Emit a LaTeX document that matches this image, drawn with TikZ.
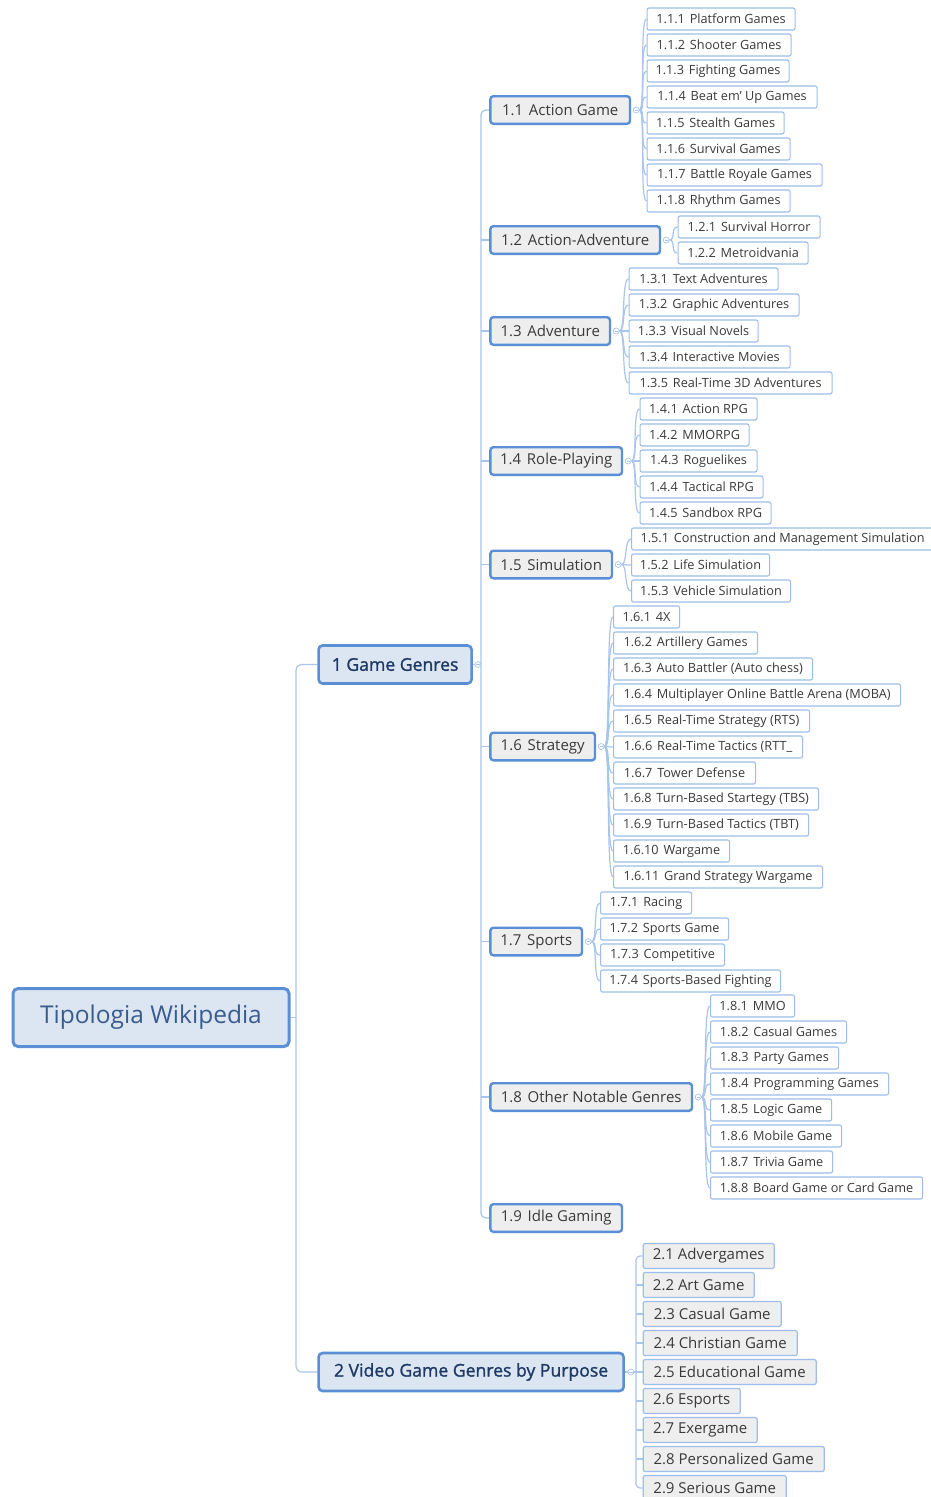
\documentclass[tikz,border=0pt]{standalone}
\usepackage{fontspec}
\setmainfont{Open Sans}
\newfontfamily\headfont[FakeBold=1.4]{Open Sans}
\usetikzlibrary{calc}

\pgfdeclarelayer{backdrop}
\pgfdeclarelayer{wires}
\pgfsetlayers{backdrop,wires,main}

\definecolor{frame}{HTML}{5A8FD6}
\definecolor{wirecol}{HTML}{A9C5EC}
\definecolor{leafline}{HTML}{9DBDEA}
\definecolor{bluefill}{HTML}{DCE6F2}
\definecolor{greyfill}{HTML}{EEEEEE}
\definecolor{roottext}{HTML}{3A5C8C}
\definecolor{headtext}{HTML}{1F3A64}
\definecolor{bodytext}{HTML}{3A3A3A}

% wider gap between an outline number and its title
\newcommand{\gp}{\hspace{0.38em}}

\tikzset{
  box/.style={anchor=west, inner xsep=0pt, inner ysep=0pt, align=center},
  rootbox/.style={box, draw=frame, line width=3pt, rounded corners=5pt, fill=bluefill,
    text=roottext, minimum height=58pt, font=\fontsize{24.5pt}{28pt}\selectfont},
  headbox/.style={box, draw=frame, line width=2.6pt, rounded corners=4pt, fill=bluefill,
    text=headtext, minimum height=38pt, font=\headfont\fontsize{17.6pt}{20pt}\selectfont},
  genrebox/.style={box, draw=frame, line width=2.4pt, rounded corners=3pt, fill=greyfill,
    text=bodytext, minimum height=27.6pt, font=\fontsize{15pt}{18pt}\selectfont},
  leafbox/.style={box, draw=leafline, line width=1.1pt, rounded corners=2pt, fill=white,
    text=bodytext, minimum height=22pt, font=\fontsize{12.7pt}{15pt}\selectfont},
  purposebox/.style={box, draw=leafline, line width=1.2pt, rounded corners=2pt, fill=greyfill,
    text=bodytext, minimum height=25pt, font=\fontsize{15pt}{18pt}\selectfont},
  wire/.style={draw=wirecol, line width=1.2pt},
  knob/.style={circle, draw=wirecol, fill=white, line width=0.7pt, inner sep=0pt, minimum size=6pt,
    path picture={\draw[wirecol, line width=0.6pt]
      ([xshift=-1.6pt]path picture bounding box.center) -- ([xshift=1.6pt]path picture bounding box.center);}},
  fan/.style={wire},
}

\begin{document}
\begin{tikzpicture}[x=1pt, y=-1pt]
\useasboundingbox (0,0) rectangle (931,1497);
\begin{pgfonlayer}{backdrop}
  \fill[white] (0,0) rectangle (931,1497);
\end{pgfonlayer}

% ---------- root and main branches ----------
\node[rootbox, minimum width=276pt] (root) at (11.5,1017.5) {Tipologia Wikipedia};
\node[headbox, minimum width=153pt] (g1) at (317.3,664.5) {1 Game Genres};
\node[headbox, minimum width=305pt] (g2) at (317.3,1372) {2 Video Game Genres by Purpose};

% ---------- genres ----------
\node[genrebox, minimum width=139.6pt] (s11) at (489.2,110)  {1.1\gp Action Game};
\node[genrebox, minimum width=169.6pt] (s12) at (489.2,240)  {1.2\gp Action-Adventure};
\node[genrebox, minimum width=119.6pt] (s13) at (489.2,331)  {1.3\gp Adventure};
\node[genrebox, minimum width=131.6pt] (s14) at (489.2,461)  {1.4\gp Role-Playing};
\node[genrebox, minimum width=121.6pt] (s15) at (489.2,564.5){1.5\gp Simulation};
\node[genrebox, minimum width=104.6pt] (s16) at (489.2,746.5){1.6\gp Strategy};
\node[genrebox, minimum width=91.6pt]  (s17) at (489.2,941.5){1.7\gp Sports};
\node[genrebox, minimum width=201.6pt] (s18) at (489.2,1097) {1.8\gp Other Notable Genres};
\node[genrebox, minimum width=131.6pt] (s19) at (489.2,1218) {1.9\gp Idle Gaming};

% ---------- collapse knobs ----------
\node[knob] (k1)  at ($(g1.east)+(5,0)$) {};
\node[knob] (k2)  at ($(g2.east)+(6,0)$) {};
\foreach \s in {11,12,13,14,15,16,17,18}
  \node[knob] (k\s) at ($(s\s.east)+(5,0)$) {};

% ---------- 1.1 ----------
\node[leafbox, minimum width=148pt] (l111) at (646.5,19)  {1.1.1\gp Platform Games};
\node[leafbox, minimum width=144pt] (l112) at (646.5,45)  {1.1.2\gp Shooter Games};
\node[leafbox, minimum width=142pt] (l113) at (646.5,71)  {1.1.3\gp Fighting Games};
\node[leafbox, minimum width=170pt] (l114) at (646.5,97)  {1.1.4\gp Beat em' Up Games};
\node[leafbox, minimum width=137pt] (l115) at (646.5,123) {1.1.5\gp Stealth Games};
\node[leafbox, minimum width=143pt] (l116) at (646.5,149) {1.1.6\gp Survival Games};
\node[leafbox, minimum width=175pt] (l117) at (646.5,175) {1.1.7\gp Battle Royale Games};
\node[leafbox, minimum width=143pt] (l118) at (646.5,201) {1.1.8\gp Rhythm Games};
% ---------- 1.2 ----------
\node[leafbox, minimum width=142pt] (l121) at (677.5,227) {1.2.1\gp Survival Horror};
\node[leafbox, minimum width=130pt] (l122) at (677.5,253) {1.2.2\gp Metroidvania};
% ---------- 1.3 ----------
\node[leafbox, minimum width=149pt] (l131) at (628.5,279) {1.3.1\gp Text Adventures};
\node[leafbox, minimum width=170pt] (l132) at (628.5,305) {1.3.2\gp Graphic Adventures};
\node[leafbox, minimum width=129pt] (l133) at (628.5,331) {1.3.3\gp Visual Novels};
\node[leafbox, minimum width=161pt] (l134) at (628.5,357) {1.3.4\gp Interactive Movies};
\node[leafbox, minimum width=203pt] (l135) at (628.5,383) {1.3.5\gp Real-Time 3D Adventures};
% ---------- 1.4 ----------
\node[leafbox, minimum width=117pt] (l141) at (639.5,409) {1.4.1\gp Action RPG};
\node[leafbox, minimum width=109pt] (l142) at (639.5,435) {1.4.2\gp MMORPG};
\node[leafbox, minimum width=117pt] (l143) at (639.5,461) {1.4.3\gp Roguelikes};
\node[leafbox, minimum width=123pt] (l144) at (639.5,487) {1.4.4\gp Tactical RPG};
\node[leafbox, minimum width=131pt] (l145) at (639.5,513) {1.4.5\gp Sandbox RPG};
% ---------- 1.5 ----------
\node[leafbox, minimum width=302pt] (l151) at (631,539) {1.5.1\gp Construction and Management Simulation};
\node[leafbox, minimum width=138pt] (l152) at (631,565) {1.5.2\gp Life Simulation};
\node[leafbox, minimum width=159pt] (l153) at (631,591) {1.5.3\gp Vehicle Simulation};
% ---------- 1.6 ----------
\node[leafbox, minimum width=66pt]  (l161)  at (613,617) {1.6.1\gp 4X};
\node[leafbox, minimum width=144pt] (l162)  at (613,643) {1.6.2\gp Artillery Games};
\node[leafbox, minimum width=199pt] (l163)  at (613,669) {1.6.3\gp Auto Battler (Auto chess)};
\node[leafbox, minimum width=287pt] (l164)  at (613,695) {1.6.4\gp Multiplayer Online Battle Arena (MOBA)};
\node[leafbox, minimum width=196pt] (l165)  at (613,721) {1.6.5\gp Real-Time Strategy (RTS)};
\node[leafbox, minimum width=189pt] (l166)  at (613,747) {1.6.6\gp Real-Time Tactics (RTT\_};
\node[leafbox, minimum width=142pt] (l167)  at (613,773) {1.6.7\gp Tower Defense};
\node[leafbox, minimum width=205pt] (l168)  at (613,799) {1.6.8\gp Turn-Based Startegy (TBS)};
\node[leafbox, minimum width=195pt] (l169)  at (613,825) {1.6.9\gp Turn-Based Tactics (TBT)};
\node[leafbox, minimum width=116pt] (l1610) at (613,851) {1.6.10\gp Wargame};
\node[leafbox, minimum width=209pt] (l1611) at (613,877) {1.6.11\gp Grand Strategy Wargame};
% ---------- 1.7 ----------
\node[leafbox, minimum width=91pt]  (l171) at (600,903) {1.7.1\gp Racing};
\node[leafbox, minimum width=128pt] (l172) at (600,929) {1.7.2\gp Sports Game};
\node[leafbox, minimum width=124pt] (l173) at (600,955) {1.7.3\gp Competitive};
\node[leafbox, minimum width=180pt] (l174) at (600,981) {1.7.4\gp Sports-Based Fighting};
% ---------- 1.8 ----------
\node[leafbox, minimum width=84pt]  (l181) at (710,1006) {1.8.1\gp MMO};
\node[leafbox, minimum width=136pt] (l182) at (710,1032) {1.8.2\gp Casual Games};
\node[leafbox, minimum width=128pt] (l183) at (710,1058) {1.8.3\gp Party Games};
\node[leafbox, minimum width=178pt] (l184) at (710,1084) {1.8.4\gp Programming Games};
\node[leafbox, minimum width=121pt] (l185) at (710,1110) {1.8.5\gp Logic Game};
\node[leafbox, minimum width=131pt] (l186) at (710,1136) {1.8.6\gp Mobile Game};
\node[leafbox, minimum width=122pt] (l187) at (710,1162) {1.8.7\gp Trivia Game};
\node[leafbox, minimum width=212pt] (l188) at (710,1188) {1.8.8\gp Board Game or Card Game};

% ---------- 2.x ----------
\node[purposebox, minimum width=131pt] (p21) at (642.6,1256) {2.1 Advergames};
\node[purposebox, minimum width=111pt] (p22) at (642.6,1285) {2.2 Art Game};
\node[purposebox, minimum width=138pt] (p23) at (642.6,1314) {2.3 Casual Game};
\node[purposebox, minimum width=154pt] (p24) at (642.6,1343) {2.4 Christian Game};
\node[purposebox, minimum width=173pt] (p25) at (642.6,1372) {2.5 Educational Game};
\node[purposebox, minimum width=97pt]  (p26) at (642.6,1401) {2.6 Esports};
\node[purposebox, minimum width=114pt] (p27) at (642.6,1430) {2.7 Exergame};
\node[purposebox, minimum width=181pt] (p28) at (642.6,1459) {2.8 Personalized Game};
\node[purposebox, minimum width=143pt] (p29) at (642.6,1488) {2.9 Serious Game};

% ---------- connectors ----------
\coordinate (rj) at (296,1017.5);
\coordinate (tj) at (481,664.5);
\coordinate (pj) at (636,1372);
\begin{pgfonlayer}{wires}
  % root to main branches
  \draw[wire] (root.east) -- (rj);
  \draw[wire, rounded corners=6pt] (g1.west) -| (rj) |- (g2.west);
  % game genres trunk
  \draw[wire] (g1.east) -- (tj);
  \draw[wire, rounded corners=5pt] (s11.west) -| (tj) |- (s19.west);
  \foreach \s in {12,13,14,15,16,17,18}
    \draw[wire] (s\s.west) -- (tj |- s\s.west);
  % purpose trunk
  \draw[wire] (g2.east) -- (pj);
  \draw[wire, rounded corners=4pt] (p21.west) -| (pj) |- (p29.west);
  \foreach \p in {22,23,24,25,26,27,28}
    \draw[wire] (p\p.west) -- (pj |- p\p.west);
  % fans from each genre to its subgenres
  \foreach \s/\list in {11/{1,2,3,4,5,6,7,8}, 12/{1,2}, 13/{1,2,3,4,5}, 14/{1,2,3,4,5},
                        15/{1,2,3}, 16/{1,2,3,4,5,6,7,8,9,10,11}, 17/{1,2,3,4}, 18/{1,2,3,4,5,6,7,8}}
    \foreach \n in \list
      \draw[fan] (k\s.east) .. controls +(6,0) and +(-7,0) .. (l\s\n.west);
\end{pgfonlayer}
\end{tikzpicture}
\end{document}
